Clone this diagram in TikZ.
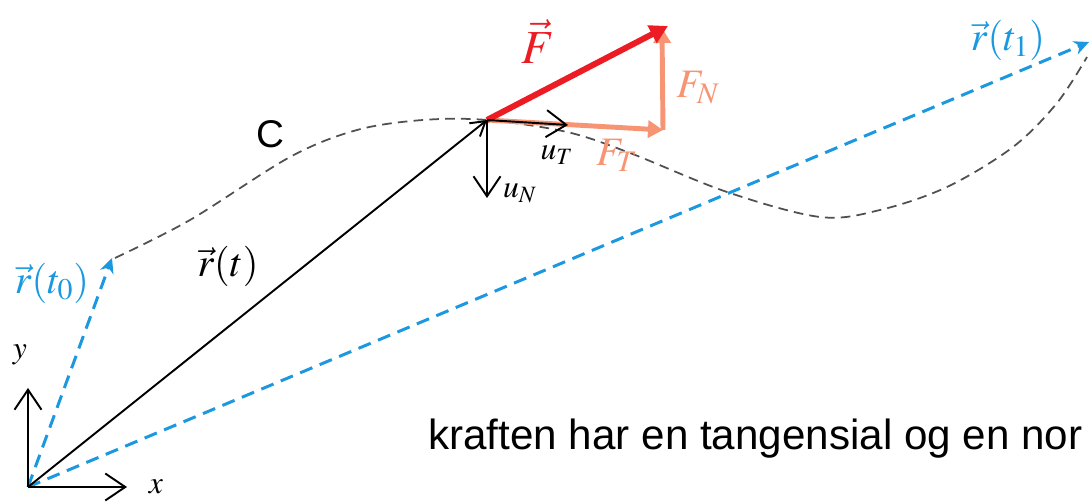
\documentclass[tikz,border=0pt]{standalone}
\usepackage{mathptmx}
\usepackage[no-math]{fontspec}
\setmainfont{Liberation Sans}
\usetikzlibrary{arrows.meta}

\definecolor{rblue}{RGB}{27,152,224}
\definecolor{fred}{RGB}{236,28,36}
\definecolor{fsalmon}{RGB}{247,148,115}
\definecolor{cgray}{RGB}{80,80,80}

\tikzset{lab/.style = {font=\fontsize{23}{26}\selectfont, inner sep=0pt}}
\tikzset{smalllab/.style = {font=\fontsize{18}{20}\selectfont, inner sep=0pt}}
\tikzset{barb/.style = {line width=1.1pt, -{Straight Barb[length=4mm, width=5.4mm, line width=1.1pt]}}}
\tikzset{bluevec/.style = {rblue, line width=1.7pt, dash pattern=on 7.5pt off 4.5pt, -{Stealth[length=3mm, width=2.8mm]}}}
\tikzset{force/.style = {line width=2.8pt, -{Triangle[length=3mm, width=3.4mm]}}}

\begin{document}
\begin{tikzpicture}[x=0.02cm, y=-0.02cm]
            \useasboundingbox (0,0) rectangle (1090,503);

            \coordinate (O) at (28,487);
            \coordinate (P) at (487,120);
            \coordinate (xtip) at (127,487);
            \coordinate (ytip) at (28,388);
            \coordinate (r0) at (112,258);
            \coordinate (r1) at (1089,42);
            \coordinate (Ftip) at (668,26);
            \coordinate (FTtip) at (663,130);
            \coordinate (FNtip) at (662,28);
            \coordinate (uT) at (568,125);
            \coordinate (uN) at (487,198);

            % the path C
            \draw[cgray, line width=1pt, dash pattern=on 5.5pt off 3.5pt]
                plot[smooth, tension=0.55] coordinates {(115,258) (190,220) (290,157) (357,130) (423,120) (P)
                (567,132) (630,153) (727,192) (820,217) (880,210) (947,187) (1013,147) (1057,103) (1087,57)};
            \node[font=\fontsize{22}{24}\selectfont, inner sep=0pt] (C) at (270,134) {C};

            % position vectors
            \draw[bluevec] (O) -- (r0);
            \draw[bluevec] (O) -- (r1);
            \draw[line width=1.1pt, -{Straight Barb[length=2.8mm, width=3.4mm, line width=1.1pt]}] (O) -- (P);

            \node[lab, text=rblue] (lr0) at (52,283) {$\vec{r}(t_0)$};
            \node[lab, text=rblue] (lr1) at (1008,40) {$\vec{r}(t_1)$};
            \node[lab] (lr) at (228,266) {$\vec{r}(t)$};

            % axes
            \draw[barb] (O) -- (xtip);
            \draw[barb] (O) -- (ytip);
            \node[smalllab] (lx) at (156,487) {$x$};
            \node[smalllab] (ly) at (20,355) {$y$};

            % force and its components
            \draw[force, fsalmon] (P) -- (FTtip);
            \draw[force, fsalmon] (FTtip) -- (FNtip);
            \draw[fred, line width=3.4pt, -{Triangle[length=3.6mm, width=3.8mm]}] (P) -- (Ftip);

            \node[font=\fontsize{27}{29}\selectfont, inner sep=0pt, text=fred] (lF) at (538,42) {$\vec{F}$};
            \node[lab, text=fsalmon] (lFN) at (698,88) {$F_N$};
            \node[lab, text=fsalmon] (lFT) at (617,155) {$F_T$};

            % unit vectors
            \draw[barb] (P) -- (uT);
            \draw[barb] (P) -- (uN);
            \node[smalllab] (luT) at (557,155) {$u_T$};
            \node[smalllab] (luN) at (520,193) {$u_N$};

            \node[font=\fontsize{24}{26}\selectfont, inner sep=0pt, anchor=base west] (note) at (428,450) {kraften har en tangensial og en nor};

        \end{tikzpicture}
\end{document}
